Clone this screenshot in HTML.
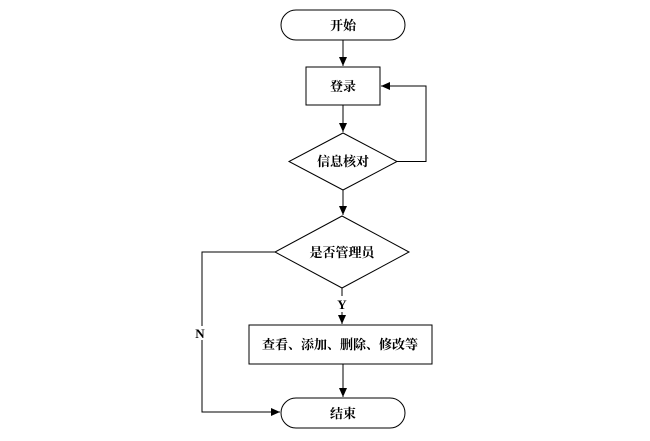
<!DOCTYPE html>
<html><head><meta charset="utf-8"><style>
html,body{margin:0;padding:0;background:#fff;}
svg text{font-family:"Liberation Serif","Noto Serif CJK SC",serif;font-weight:bold;font-size:13px;fill:#000;}
</style></head><body>
<svg width="650" height="436" viewBox="0 0 650 436" xmlns="http://www.w3.org/2000/svg">
<defs><marker id="a" markerWidth="10" markerHeight="8" refX="9" refY="4" orient="auto" markerUnits="userSpaceOnUse"><path d="M0,0 L9,4 L0,8 Z" fill="#000"/></marker></defs>
<g fill="none" stroke="#000" stroke-width="1">
<rect x="281" y="10" width="124" height="30" rx="15" ry="15"/>
<rect x="306" y="67" width="74" height="38"/>
<polygon points="343,133 397,161.5 343,190 289,161.5"/>
<polygon points="342,216 409,252 342,288 275,252"/>
<rect x="249" y="325" width="183" height="39"/>
<rect x="281" y="398" width="124" height="30" rx="15" ry="15"/>
<line x1="343" y1="40" x2="343" y2="66" marker-end="url(#a)"/>
<line x1="343" y1="105" x2="343" y2="132" marker-end="url(#a)"/>
<polyline points="397,161.5 426,161.5 426,86 381,86" marker-end="url(#a)"/>
<line x1="343" y1="190" x2="343" y2="215" marker-end="url(#a)"/>
<line x1="342" y1="288" x2="342" y2="296"/>
<line x1="342" y1="312" x2="342" y2="324" marker-end="url(#a)"/>
<line x1="343" y1="364" x2="343" y2="397" marker-end="url(#a)"/>
<polyline points="275,252 202,252 202,326"/>
<polyline points="202,340 202,412 280,412" marker-end="url(#a)"/>
</g>
<text x="343" y="30" text-anchor="middle">开始</text>
<text x="343" y="91" text-anchor="middle">登录</text>
<text x="343" y="166" text-anchor="middle">信息核对</text>
<text x="342" y="257" text-anchor="middle">是否管理员</text>
<text x="342" y="309" text-anchor="middle">Y</text>
<text x="200" y="338" text-anchor="middle">N</text>
<text x="340" y="349" text-anchor="middle">查看、添加、删除、修改等</text>
<text x="343" y="418" text-anchor="middle">结束</text>
</svg>
</body></html>
